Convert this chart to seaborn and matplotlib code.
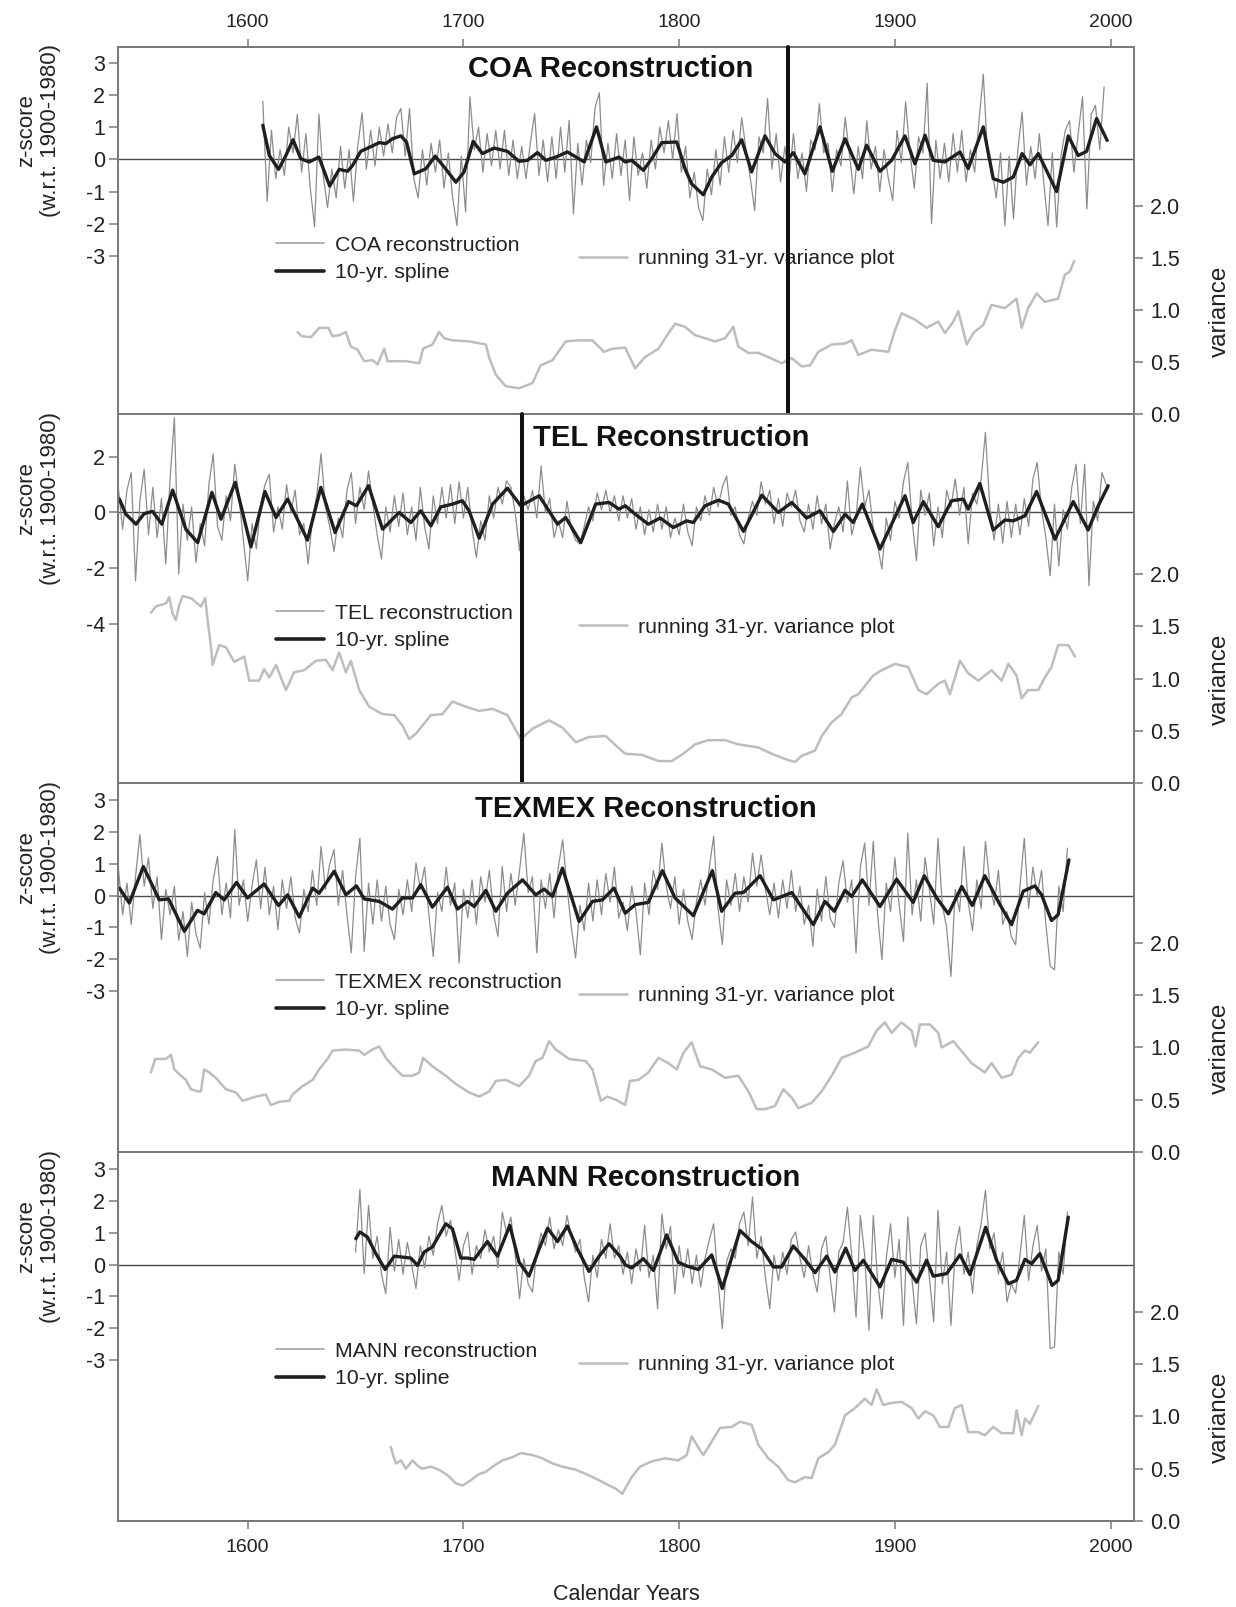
import numpy as np
import matplotlib
matplotlib.use("Agg")
import matplotlib.pyplot as plt
import seaborn as sns
from matplotlib.lines import Line2D

# ---------------- DATA ----------------
# raw reconstructions: values every 2 years starting at *_start
coa_start = 1607
coa_raw = [1.8, -1.3, 0.9, -0.6, 0.3, -0.5, 1.0, 0.2, 1.4, -0.4, 0.8, -0.9, -2.1, 1.4, -0.5, -1.5, -0.3, -1.2, 0.4, -0.9,
           0.3, -1.3, 0.4, 1.45, -0.3, 0.9, -0.2, 1.0, 0.1, 1.1, 0.2, 1.3, 1.58, 0.1, 1.58, -0.6, -1.2, 0.3, -0.8, 0.5,
           -0.4, 0.6, -0.9, 0.2, -1.2, -2.06, 0.1, -1.64, 1.94, 0.3, 1.0, -0.4, 0.8, -0.2, 0.9, -0.3, 0.9, -0.5, 0.6, -0.6,
           0.4, -0.6, 0.5, 1.42, -0.5, 0.6, -0.7, 0.7, -0.6, 1.0, -0.4, 1.21, -1.69, 0.5, -0.8, 0.6, -0.1, 1.6, 2.07, -0.81,
           0.5, -0.6, 0.8, -0.5, 0.6, -1.28, 0.7, -0.5, 0.2, -0.9, 0.6, -0.3, 1.0, 0.2, 1.2, 0.0, 1.42, -0.4, 0.4, -1.2,
           -0.4, -1.5, -1.9, -0.3, -1.1, 0.3, -0.8, 0.7, -0.4, 0.9, -0.1, 1.3, 0.3, -0.6, -1.59, 0.7, 0.2, 1.89, -0.3, 0.8,
           -0.7, 0.4, -0.6, 0.8, -0.6, 0.2, -1.0, 0.6, 0.3, 1.73, 0.2, 0.5, -1.0, 0.3, -0.2, 1.3, 0.1, -1.07, 0.4, -0.6,
           1.2, -0.3, 0.4, -1.0, 0.3, -0.6, -1.28, 0.9, -0.1, 1.79, 0.2, -0.9, 0.7, 0.2, 2.36, -2.0, 0.6, -0.6, 0.5, -0.7,
           0.8, -0.4, 0.9, -0.7, 0.3, -0.4, 1.2, 2.64, 0.1, -0.3, -1.2, 0.2, -2.06, 0.1, -1.85, 0.3, 1.47, -0.8, 0.4, -0.6,
           0.8, -0.7, -2.06, 0.2, -2.1, 0.1, 0.9, 1.2, -0.4, 0.8, 1.94, -1.54, 1.4, 1.68, 0.3, 2.25]
coa_spline = [(1607, 1.06), (1610, 0.12), (1614.3, -0.31), (1617.7, 0.12), (1621, 0.61), (1624.6, 0.02), (1628.5, -0.08),
              (1633, 0.07), (1638, -0.83), (1642.4, -0.31), (1646.3, -0.37), (1648.6, -0.19), (1652.4, 0.25),
              (1656.6, 0.38), (1661, 0.52), (1664, 0.49), (1667.1, 0.64), (1671, 0.73), (1673.6, 0.54), (1677.2, -0.45),
              (1682.6, -0.29), (1686.9, 0.10), (1691.1, -0.24), (1696.5, -0.71), (1700.3, -0.39), (1704.5, 0.56),
              (1708.8, 0.18), (1714.2, 0.35), (1720.4, 0.25), (1725.8, -0.06), (1729.7, -0.03), (1734.3, 0.21),
              (1738.2, -0.03), (1742.8, 0.07), (1748.2, 0.23), (1756, -0.08), (1761.7, 1.01), (1766, -0.08),
              (1772.1, 0.07), (1775, -0.08), (1778, -0.03), (1783.4, -0.34), (1787.3, 0.02), (1791.9, 0.52),
              (1798.9, 0.54), (1802.7, -0.29), (1805.8, -0.76), (1811.2, -1.10), (1815.1, -0.55), (1819.7, -0.10),
              (1824.4, 0.12), (1829, 0.61), (1833.6, -0.39), (1839.8, 0.73), (1844.4, 0.18), (1849.1, -0.08),
              (1852.9, 0.21), (1858.3, -0.45), (1865.3, 1.01), (1871, -0.37), (1876.9, 0.64), (1883.1, -0.31),
              (1886.9, 0.44), (1893.1, -0.37), (1898.5, -0.03), (1904.7, 0.73), (1909.3, -0.14), (1914, 0.75),
              (1917.8, -0.03), (1923.2, -0.08), (1930.2, 0.23), (1934, -0.29), (1941, 1.01), (1945.6, -0.60),
              (1950.3, -0.71), (1954.9, -0.55), (1959, 0.18), (1962.6, -0.17), (1966.5, 0.18), (1975, -1.00),
              (1980.4, 0.73), (1985, 0.12), (1988.9, 0.25), (1993.5, 1.27), (1998.4, 0.59)]
coa_var = [(1623.1, 0.79), (1625, 0.75), (1629.3, 0.74), (1633.1, 0.83), (1637.5, 0.83), (1639.3, 0.75), (1642.4, 0.76),
           (1645.5, 0.79), (1647.8, 0.65), (1650.9, 0.62), (1654, 0.51), (1657.8, 0.52), (1660.2, 0.48), (1663.3, 0.63),
           (1664.8, 0.51), (1668.7, 0.51), (1673.3, 0.51), (1679.5, 0.49), (1681.3, 0.63), (1685.6, 0.67),
           (1688.7, 0.79), (1691.1, 0.73), (1694.9, 0.71), (1702.6, 0.70), (1710.4, 0.67), (1712, 0.54), (1715, 0.38),
           (1719.6, 0.27), (1725.8, 0.25), (1732, 0.30), (1735.8, 0.47), (1741.3, 0.52), (1747.4, 0.70),
           (1753.6, 0.71), (1759.8, 0.71), (1765.2, 0.60), (1769.1, 0.63), (1775, 0.64), (1779.6, 0.44),
           (1784.2, 0.55), (1790.4, 0.63), (1793.5, 0.73), (1798.1, 0.87), (1802.7, 0.84), (1807.4, 0.76),
           (1812, 0.73), (1816.6, 0.70), (1821.3, 0.73), (1825.1, 0.84), (1827.4, 0.65), (1832.1, 0.59),
           (1836.7, 0.59), (1841.3, 0.55), (1847.5, 0.49), (1852.2, 0.54), (1856.8, 0.46), (1860.7, 0.47),
           (1864.5, 0.60), (1870.7, 0.67), (1876.9, 0.68), (1880, 0.71), (1883.1, 0.57), (1889.2, 0.62), (1897, 0.60),
           (1900.1, 0.81), (1903.1, 0.97), (1909.3, 0.91), (1914.7, 0.83), (1920.1, 0.89), (1923.2, 0.78),
           (1927.1, 0.89), (1929.4, 0.99), (1933.3, 0.67), (1936.4, 0.78), (1941, 0.86), (1944.8, 1.05), (1951, 1.02),
           (1956.4, 1.11), (1958.8, 0.83), (1961.8, 1.02), (1965.7, 1.16), (1969.5, 1.08), (1975.7, 1.11),
           (1978.8, 1.34), (1981.1, 1.37), (1983.1, 1.47)]

tel_start = 1540
tel_raw = [0.9, -0.6, 0.8, 1.43, -2.45, 0.4, 1.55, -0.8, 0.9, -0.9, 0.5, -1.85, 1.2, 3.4, -2.2, 0.3, -1.0, 0.2, -1.79, -0.4,
           -1.2, 1.0, 2.09, -0.5, -1.0, 0.6, -0.3, 1.73, 0.5, -1.0, -2.45, -0.4, -1.3, 0.3, 1.0, 1.37, -0.7, 0.2, -0.6, 1.0,
           0.0, 0.8, -0.8, -0.4, -1.85, -0.2, 0.6, 2.11, 0.2, -0.5, -1.4, -0.2, -0.9, 0.8, 1.43, -0.4, 0.9, 0.1, 1.49, 0.3,
           -0.8, -1.67, 0.2, -0.7, 0.6, -0.5, 0.7, -0.8, 0.2, -1.0, 0.9, -0.5, -1.31, 0.6, -0.4, 0.9, -0.2, 1.0, -0.4, 1.1,
           -0.2, 0.9, -0.6, -1.61, -0.3, -1.0, 0.6, -0.2, 0.9, 0.3, 1.13, 0.9, 0.0, -1.37, 0.6, 0.1, 0.8, -0.2, 1.67, 0.0,
           0.5, -0.9, -0.3, -0.9, 0.4, -0.6, -1.0, -1.13, -0.5, 0.2, -0.3, 0.7, 0.1, 0.8, 0.0, 0.6, -0.3, 0.6, -0.2, 0.5,
           -0.6, 0.2, -0.8, 0.1, -0.7, 0.3, -0.6, 0.2, -0.9, -0.2, -0.8, 0.3, -0.7, -1.19, 0.2, -0.3, 0.6, -0.1, 0.9, 0.2,
           0.9, 1.31, -0.1, 0.2, -0.8, -1.13, -0.2, 0.4, -0.1, 1.1, 0.3, 0.8, -0.4, 0.5, -0.5, 0.7, 0.2, 0.8, -0.3, -0.7,
           0.3, -0.6, 0.6, -0.4, 0.3, -1.31, -0.4, 0.2, -0.7, 1.13, -0.8, -0.2, 1.61, 0.2, 0.8, -0.6, -1.2, -2.03, -0.2, -1.0,
           0.4, -0.2, 1.1, 1.79, -0.3, -1.73, 0.8, -0.1, 0.7, -1.2, 0.2, -0.9, 0.8, 0.2, 1.2, -0.1, 0.9, -1.13, 0.7, 0.3,
           1.2, 2.87, 0.2, -1.0, 0.3, -1.1, 0.4, -0.9, 0.3, -0.8, 0.5, -0.5, 1.2, 1.79, 0.1, -0.9, -2.27, 0.3, -1.91, 0.1,
           -0.6, 0.9, 1.73, -0.4, 1.73, -2.63, 0.4, -0.3, 1.43, 1.0]
tel_spline = [(1540.5, 0.48), (1543.5, -0.06), (1548.2, -0.42), (1552, -0.04), (1555.9, 0.04), (1560.2, -0.42),
              (1565.2, 0.80), (1571.3, -0.60), (1576.8, -1.08), (1583.4, 0.72), (1587.6, -0.24), (1594.2, 1.08),
              (1601.5, -1.23), (1608, 0.75), (1613.1, -0.18), (1618.5, 0.48), (1627.7, -0.99), (1633.9, 0.90),
              (1640.5, -0.72), (1646.7, 0.39), (1650.4, 0.24), (1656, 0.96), (1662.5, -0.60), (1670.2, 0.00),
              (1675.6, -0.36), (1680.2, 0.06), (1684.9, -0.48), (1689.5, 0.20), (1694.9, 0.30), (1699.5, 0.42),
              (1702.6, 0.06), (1707.3, -0.92), (1713.5, 0.30), (1720.4, 0.87), (1726.6, 0.24), (1735.1, 0.60),
              (1743.6, -0.42), (1747.4, -0.18), (1754.4, -1.08), (1761.3, 0.30), (1767.5, 0.36), (1772.1, 0.12),
              (1775, 0.24), (1779.6, -0.06), (1785.7, -0.42), (1791.2, -0.20), (1797.3, -0.54), (1803.5, -0.30),
              (1806.6, -0.36), (1812, 0.24), (1818.2, 0.44), (1822.8, 0.30), (1829.8, -0.68), (1838.3, 0.62),
              (1846, 0.00), (1852.2, 0.36), (1859.1, -0.20), (1865.3, 0.06), (1871.5, -0.68), (1876.9, -0.06),
              (1880.7, -0.36), (1884.9, 0.30), (1893.1, -1.31), (1898.5, -0.42), (1904.7, 0.60), (1908.5, -0.36),
              (1913.2, 0.39), (1920.1, -0.51), (1926.3, 0.42), (1931.7, 0.48), (1934, 0.12), (1939.4, 1.04),
              (1945.6, -0.63), (1951, -0.27), (1954.9, -0.30), (1960.3, -0.12), (1965.7, 0.75), (1974.2, -0.96),
              (1982.7, 0.39), (1989.6, -0.63), (1994.3, 0.24), (1998.9, 0.96)]
tel_var = [(1555.1, 1.63), (1557.4, 1.69), (1562.1, 1.72), (1563.6, 1.78), (1565.2, 1.62), (1566.7, 1.56), (1568.2, 1.70),
           (1569.8, 1.79), (1573.7, 1.77), (1578.3, 1.69), (1580.3, 1.77), (1581.4, 1.56), (1583, 1.30), (1583.7, 1.13),
           (1586.8, 1.32), (1589.9, 1.30), (1593.7, 1.16), (1598.4, 1.21), (1600.7, 0.98), (1605.3, 0.98),
           (1607.6, 1.09), (1610, 1.01), (1613.1, 1.13), (1617.7, 0.89), (1621.5, 1.06), (1626.2, 1.08),
           (1631.6, 1.17), (1636.2, 1.18), (1639.3, 1.08), (1642.4, 1.25), (1645.5, 1.06), (1647.8, 1.17),
           (1651.7, 0.89), (1656.3, 0.73), (1662.5, 0.66), (1667.9, 0.65), (1671.7, 0.55), (1674.8, 0.42),
           (1677.9, 0.47), (1684.9, 0.65), (1690.3, 0.66), (1694.9, 0.78), (1701.1, 0.73), (1707.3, 0.69),
           (1713.5, 0.71), (1720.4, 0.65), (1726.6, 0.42), (1732, 0.52), (1739.7, 0.60), (1745.9, 0.53),
           (1752.1, 0.39), (1758.2, 0.44), (1765.9, 0.45), (1770.6, 0.36), (1775, 0.28), (1782.7, 0.27),
           (1790.4, 0.21), (1796.6, 0.21), (1801.9, 0.28), (1807.4, 0.37), (1813.5, 0.41), (1821.3, 0.41),
           (1827.4, 0.37), (1836.7, 0.34), (1842.9, 0.28), (1849.1, 0.23), (1853.7, 0.20), (1856.8, 0.26),
           (1863, 0.31), (1866.1, 0.45), (1870.7, 0.58), (1875.3, 0.66), (1880, 0.82), (1883.1, 0.85), (1890, 1.03),
           (1893.9, 1.08), (1900, 1.14), (1906.2, 1.11), (1910.9, 0.89), (1914.7, 0.85), (1920.1, 0.95),
           (1923.2, 0.98), (1925.5, 0.85), (1930.2, 1.17), (1934, 1.05), (1938.7, 0.98), (1944.8, 1.08),
           (1949.5, 0.98), (1952.6, 1.14), (1956.4, 1.03), (1958.8, 0.81), (1961.8, 0.89), (1966.5, 0.89),
           (1969.5, 1.01), (1972.6, 1.11), (1975.7, 1.32), (1980.4, 1.32), (1983.5, 1.21)]

tex_start = 1540
tex_raw = [0.9, -0.6, 0.4, -0.9, 0.6, 1.92, 0.3, 1.2, -0.4, 0.6, -1.38, 0.2, -0.6, 0.3, -1.4, -0.5, -1.91, -0.2, -1.2, -1.65,
           0.1, -0.9, 0.5, 1.24, -0.6, 0.4, -0.7, 2.08, -0.3, 0.5, -0.8, 0.3, 1.13, -0.4, 0.9, -0.6, 0.3, -1.07, 0.5, -0.4,
           0.6, -0.7, -1.17, 0.2, -0.5, 0.8, -0.3, 1.55, 0.2, 1.0, 1.45, -0.3, 0.8, -0.6, -1.8, 0.6, 1.81, -1.75, 0.4, -0.9,
           0.5, -0.8, 0.3, -0.9, -1.38, 0.2, -0.6, 0.5, -0.5, 1.03, 0.2, 0.9, -0.6, -1.91, 0.1, -0.5, 0.9, -0.3, 0.4, -2.12,
           0.2, -0.7, 0.5, -0.9, 0.6, -0.2, 0.8, -0.6, -1.28, 0.92, -0.5, 0.7, -0.3, 0.8, 1.97, 0.1, 0.6, -1.8, 0.5, -0.4,
           0.7, -0.7, 0.9, 1.76, 0.3, -1.0, -1.96, -0.3, -1.1, 0.4, -0.8, 0.5, -0.6, 0.7, -0.2, 0.9, -0.7, -0.2, -1.1, 0.3,
           -0.5, -1.86, 0.4, -0.6, 0.8, 0.2, 1.66, 0.3, -0.4, 0.6, -0.9, 0.2, -0.8, -1.38, -0.2, 0.5, -0.3, 0.9, 1.87, -0.4,
           -1.54, 0.5, -0.3, 0.7, -0.5, 0.6, -0.2, 1.34, 0.3, 1.29, 0.2, -0.6, 0.4, -0.7, 0.5, -0.4, 0.8, -0.5, 0.3, -0.9,
           -0.3, -1.59, 0.2, -0.8, 0.6, -0.7, -1.0, 0.4, 1.1, -0.2, 0.5, -1.8, 0.9, 1.66, -0.3, 1.71, -0.6, -2.01, 0.4, -0.5,
           1.2, -0.3, -1.44, 1.97, -0.6, 0.5, -0.8, 1.2, 0.2, -0.9, 1.81, -0.3, -1.0, -2.54, 0.2, -0.5, 1.55, -0.2, -1.1, 0.5,
           -0.4, 1.71, 0.4, -0.3, 0.8, -0.9, -0.5, -1.3, -1.54, 0.3, 1.81, -0.4, 0.9, 0.0, 0.8, -0.9, -2.22, -2.33, 0.3, -0.5,
           1.5]
tex_spline = [(1540.5, 0.24), (1545.1, -0.23), (1551.6, 0.92), (1559, -0.13), (1563.3, -0.10), (1570.6, -1.12),
              (1576.7, -0.46), (1579.8, -0.57), (1585.2, 0.10), (1589.1, -0.13), (1594.8, 0.42), (1599.9, -0.07),
              (1607.6, 0.37), (1614.3, -0.31), (1618.5, 0.03), (1623.9, -0.67), (1630.1, 0.24), (1633.1, 0.08),
              (1640.1, 0.77), (1645.5, 0.03), (1650.4, 0.31), (1654, -0.10), (1661, -0.18), (1667.1, -0.42),
              (1671.7, -0.07), (1676.4, -0.07), (1680.2, 0.35), (1685.6, -0.36), (1692.6, 0.27), (1697.2, -0.42),
              (1701.9, -0.18), (1705, -0.34), (1710.4, 0.17), (1715, -0.49), (1720.4, 0.08), (1727.4, 0.50),
              (1733.5, 0.03), (1737.4, 0.21), (1741.3, -0.02), (1745.9, 0.87), (1753.6, -0.81), (1759.8, -0.18),
              (1764.4, -0.13), (1769.8, 0.24), (1775, -0.55), (1779.6, -0.28), (1785.7, -0.21), (1792.2, 0.79),
              (1798.1, -0.07), (1806.6, -0.63), (1815.4, 0.79), (1819.7, -0.49), (1825.9, 0.08), (1829.8, 0.10),
              (1837.5, 0.63), (1843.7, -0.13), (1852.2, 0.10), (1862.2, -0.91), (1867.6, -0.18), (1871.9, -0.49),
              (1876.9, 0.17), (1880, -0.02), (1884.9, 0.50), (1893.1, -0.34), (1900.8, 0.52), (1908.5, -0.21),
              (1913.6, 0.63), (1919.4, -0.07), (1924.8, -0.57), (1931, 0.29), (1935.9, -0.31), (1941.7, 0.63),
              (1948.7, -0.28), (1954.1, -0.91), (1959.5, 0.14), (1964.9, 0.31), (1968, 0.03), (1972.6, -0.78),
              (1975.7, -0.60), (1980.7, 1.13)]
tex_var = [(1555.1, 0.76), (1557.1, 0.89), (1562.1, 0.89), (1564.4, 0.93), (1566, 0.79), (1569, 0.73), (1571.3, 0.69),
           (1573.7, 0.60), (1576.7, 0.58), (1578.3, 0.58), (1579.8, 0.79), (1582.2, 0.76), (1585.2, 0.71),
           (1589.9, 0.60), (1594.5, 0.57), (1597.6, 0.49), (1603.8, 0.53), (1608.4, 0.55), (1610.7, 0.45),
           (1614.6, 0.48), (1619.2, 0.49), (1620.8, 0.55), (1625.4, 0.63), (1630.1, 0.69), (1633.1, 0.79),
           (1637, 0.89), (1639.3, 0.97), (1645.5, 0.98), (1651.7, 0.97), (1654, 0.93), (1657.8, 0.98), (1661, 1.01),
           (1664, 0.90), (1668.7, 0.79), (1671.7, 0.73), (1676.4, 0.73), (1679.5, 0.76), (1681.3, 0.90),
           (1685.6, 0.82), (1691.8, 0.73), (1696.5, 0.65), (1702.6, 0.57), (1707.3, 0.53), (1712, 0.58), (1715, 0.68),
           (1719.6, 0.69), (1725.8, 0.63), (1730.4, 0.73), (1733.5, 0.87), (1736.6, 0.90), (1739.7, 1.06),
           (1742.8, 0.98), (1749, 0.89), (1756.7, 0.87), (1759.8, 0.79), (1763.7, 0.49), (1766.7, 0.53),
           (1770.6, 0.50), (1775, 0.45), (1777.2, 0.68), (1781.1, 0.69), (1785.7, 0.76), (1790.4, 0.90), (1795, 0.85),
           (1798.9, 0.79), (1802, 0.95), (1805.8, 1.05), (1809.7, 0.82), (1815.1, 0.79), (1821.3, 0.71),
           (1827.4, 0.73), (1832.1, 0.58), (1836, 0.41), (1839.8, 0.41), (1844.4, 0.44), (1848.3, 0.60),
           (1852.2, 0.52), (1855.3, 0.42), (1861.4, 0.47), (1866.1, 0.58), (1870.7, 0.73), (1875.3, 0.90),
           (1881.5, 0.95), (1887.7, 1.01), (1891.5, 1.16), (1895.4, 1.24), (1898.5, 1.14), (1903.1, 1.24),
           (1907.8, 1.16), (1909.6, 1.01), (1911.6, 1.22), (1916.3, 1.22), (1920.1, 1.14), (1921.7, 1.00),
           (1927.1, 1.06), (1935.6, 0.85), (1941.7, 0.76), (1944.8, 0.85), (1949.5, 0.71), (1954.1, 0.74),
           (1957.2, 0.90), (1960.3, 0.97), (1962.6, 0.95), (1966.5, 1.05)]

mann_start = 1650
mann_raw = [0.4, 2.37, -0.28, 1.87, 0.2, 0.9, -0.3, -0.91, 1.18, -0.2, 0.8, -0.3, 0.7, 0.0, -0.75, 0.6, -0.1, 0.9, 0.3, 1.3,
            1.87, 0.9, 1.4, 0.5, -0.49, 0.6, 1.03, -0.3, 0.6, 0.2, 1.1, 0.4, 0.9, -0.1, 1.66, 1.0, 1.5, 0.3, -1.07, 0.2,
            -0.6, -0.86, 0.4, 1.0, 0.6, 1.5, 0.5, 1.1, 0.6, 1.55, 0.9, 0.4, 0.8, -0.4, -1.17, 0.3, -0.4, 0.8, 0.2, 1.29,
            0.2, 0.6, -0.3, 0.4, -0.6, 0.5, -0.2, 1.24, -0.4, 0.3, -1.38, 1.6, 0.5, 1.2, -0.91, 0.6, -0.4, 0.5, -0.6, 0.3,
            -0.7, 0.2, 0.8, 1.29, -0.5, -2.01, 0.1, 0.5, 0.2, 1.3, 1.66, 0.6, 2.13, 0.2, 0.9, -0.4, -1.38, 0.3, -0.5, 0.4,
            -0.3, 0.8, 1.03, 0.2, -0.4, 0.6, -0.3, -0.86, 0.5, 0.9, -0.4, -1.49, 0.4, 0.7, 1.81, 0.3, -1.65, 1.55, 0.3,
            -2.07, 1.55, -0.5, -1.7, 0.2, 1.29, -0.4, 0.8, -1.91, 1.5, -0.5, -1.86, 0.6, 1.0, -0.4, -1.8, 1.71, -0.6, 0.4,
            -1.91, 0.5, 1.2, -0.3, 0.4, -0.9, 0.6, 1.3, 2.34, 0.5, 1.0, -0.3, 0.4, -1.17, -0.6, -0.9, 0.3, 1.55, -0.5, 0.6,
            1.24, -0.2, 0.5, -2.64, -2.59, 0.4, -0.3, 1.66]
mann_spline = [(1650.1, 0.82), (1652, 1.03), (1655.5, 0.87), (1659.4, 0.35), (1663.7, -0.15), (1667.9, 0.27),
               (1671.7, 0.24), (1675.6, 0.21), (1678.7, -0.02), (1681.8, 0.40), (1685.6, 0.56), (1691.8, 1.29),
               (1694.9, 1.13), (1698.8, 0.21), (1701.9, 0.21), (1705, 0.17), (1711.1, 0.73), (1715.8, 0.27),
               (1721.5, 1.24), (1725.8, 0.08), (1730.4, -0.36), (1735.1, 0.50), (1739, 1.15), (1743.6, 0.73),
               (1748.2, 1.22), (1752.8, 0.50), (1758.2, -0.21), (1762.9, 0.27), (1767.5, 0.66), (1772.9, 0.24),
               (1775, 0.0), (1778, -0.10), (1783.4, 0.19), (1788.1, -0.18), (1794.2, 0.94), (1799.6, 0.08),
               (1803.5, -0.04), (1808.9, -0.15), (1815.1, 0.31), (1820, -0.75), (1828.2, 1.08), (1833.6, 0.73),
               (1838.3, 0.50), (1843.7, -0.07), (1847.5, -0.07), (1852.9, 0.59), (1858.3, 0.17), (1863, -0.25),
               (1868.4, 0.27), (1872.2, -0.23), (1877.2, 0.52), (1881.5, -0.18), (1885.4, 0.14), (1893.1, -0.70),
               (1898.5, 0.17), (1903.9, 0.08), (1910.1, -0.55), (1914.7, 0.14), (1917.8, -0.36), (1924, -0.28),
               (1930.2, 0.31), (1934.8, -0.31), (1942.1, 1.18), (1947.2, 0.14), (1952.6, -0.60), (1956.4, -0.49),
               (1960.3, 0.17), (1963.4, 0.03), (1967.2, 0.35), (1972.9, -0.65), (1975.7, -0.49), (1980.4, 1.50)]
mann_var = [(1666.3, 0.71), (1667.4, 0.63), (1668.7, 0.55), (1671, 0.58), (1673.3, 0.50), (1676.4, 0.58), (1678.7, 0.53),
            (1681, 0.50), (1684.9, 0.52), (1688.7, 0.49), (1692.6, 0.44), (1696.5, 0.36), (1699.6, 0.34),
            (1703.4, 0.39), (1707.3, 0.45), (1710.4, 0.47), (1714.2, 0.53), (1718.1, 0.58), (1722.7, 0.61),
            (1726.6, 0.65), (1732, 0.63), (1736.6, 0.60), (1741.3, 0.55), (1745.9, 0.52), (1752.1, 0.49),
            (1756.7, 0.45), (1762.9, 0.39), (1767.5, 0.34), (1770.6, 0.31), (1773.7, 0.26), (1775, 0.31),
            (1778, 0.42), (1781.9, 0.52), (1787.3, 0.57), (1793.5, 0.60), (1799.6, 0.58), (1803.5, 0.63),
            (1805.8, 0.81), (1808.1, 0.73), (1811.2, 0.63), (1815.1, 0.76), (1818.9, 0.89), (1824.4, 0.90),
            (1828.2, 0.95), (1833.6, 0.92), (1836.7, 0.73), (1841.3, 0.60), (1845.9, 0.52), (1850.6, 0.39),
            (1853.7, 0.37), (1858.3, 0.42), (1861.4, 0.41), (1864.5, 0.60), (1869.2, 0.66), (1872.2, 0.73),
            (1876.9, 1.01), (1881.5, 1.08), (1886.1, 1.17), (1889.2, 1.11), (1891.5, 1.26), (1894.6, 1.11),
            (1898.5, 1.13), (1903.1, 1.14), (1907.8, 1.08), (1910.9, 0.98), (1914, 1.05), (1917.8, 1.01),
            (1920.9, 0.90), (1924.8, 0.90), (1927.8, 1.08), (1931, 1.11), (1934, 0.85), (1938.7, 0.85),
            (1941.7, 0.82), (1945.6, 0.90), (1949.5, 0.84), (1954.9, 0.84), (1956.4, 1.06), (1958.8, 0.82),
            (1960.3, 0.98), (1962.6, 0.93), (1966.5, 1.10)]

panel_names = ["COA", "TEL", "TEXMEX", "MANN"]
marker_years = {"COA": 1850.6, "TEL": 1727.0}
x_ticks = [1600, 1700, 1800, 1900, 2000]
var_ticks = [0.0, 0.5, 1.0, 1.5, 2.0]

# ---------------- STYLE ----------------
sns.set_theme(style="white")
plt.rcParams["font.family"] = ["Liberation Sans", "DejaVu Sans"]
plt.rcParams["axes.unicode_minus"] = False

RAW_C = "#8c8c8c"
SPL_C = "#1f1f1f"
VAR_C = "#bdbdbd"
SPINE_C = "#7a7a7a"
TXT_C = "#222222"

W, H = 1236, 1607
fig = plt.figure(figsize=(W / 100, H / 100), dpi=100)

ax_left, ax_right = 118.3, 1134.3
panel_px = [(46.7, 414.3), (414.3, 783.0), (783.0, 1152.0), (1152.0, 1521.0)]
zlims = [(-7.92, 3.50), (-9.70, 3.52), (-8.07, 3.55), (-8.07, 3.55)]
zticks = [[-3, -2, -1, 0, 1, 2, 3], [-4, -2, 0, 2], [-3, -2, -1, 0, 1, 2, 3], [-3, -2, -1, 0, 1, 2, 3]]
title_x = [0.485, 0.544, 0.519, 0.5187]
title_y = [0.918, 0.913, 0.908, 0.908]

datasets = {
    "COA": (coa_start, coa_raw, coa_spline, coa_var),
    "TEL": (tel_start, tel_raw, tel_spline, tel_var),
    "TEXMEX": (tex_start, tex_raw, tex_spline, tex_var),
    "MANN": (mann_start, mann_raw, mann_spline, mann_var),
}

for i, name in enumerate(panel_names):
    top, bot = panel_px[i]
    rect = [ax_left / W, 1 - bot / H, (ax_right - ax_left) / W, (bot - top) / H]
    ax = fig.add_axes(rect)
    ax2 = ax.twinx()
    start, raw, spline, var = datasets[name]
    raw_years = np.arange(start, start + 2 * len(raw), 2)
    sy, sv = zip(*spline)
    vy, vv = zip(*var)

    ax.axhline(0, color="#4a4a4a", lw=1.0, zorder=1)
    sns.lineplot(x=raw_years, y=raw, ax=ax, color=RAW_C, linewidth=0.9, sort=False,
                 estimator=None, errorbar=None, zorder=2)
    sns.lineplot(x=list(sy), y=list(sv), ax=ax, color=SPL_C, linewidth=2.4, sort=False,
                 estimator=None, errorbar=None, zorder=3, solid_joinstyle="round",
                 solid_capstyle="round")
    sns.lineplot(x=list(vy), y=list(vv), ax=ax2, color=VAR_C, linewidth=1.8, sort=False,
                 estimator=None, errorbar=None, zorder=2)

    ax.set_xlim(1540, 2011)
    ax.set_ylim(*zlims[i])
    ax2.set_ylim(0, 3.53)
    ax.set_yticks(zticks[i])
    ax.set_yticklabels([str(t) for t in zticks[i]])
    ax2.set_yticks(var_ticks)
    ax2.set_yticklabels([f"{t:.1f}" for t in var_ticks])
    ax.set_xticks(x_ticks)

    for a in (ax, ax2):
        for s in a.spines.values():
            s.set_color(SPINE_C)
            s.set_linewidth(1.4)
    ax.tick_params(axis="y", which="both", left=True, direction="out", length=6.5, width=1.1,
                   color=SPINE_C, labelsize=15.5, pad=3, labelcolor=TXT_C)
    ax2.tick_params(axis="y", which="both", right=True, direction="out", length=6.5, width=1.1,
                    color=SPINE_C, labelsize=15.5, pad=5, labelcolor=TXT_C)
    if i == 0:
        ax.tick_params(axis="x", bottom=False, top=True, labelbottom=False, labeltop=True,
                       direction="out", length=6, width=1.1, color=SPINE_C, labelsize=14,
                       pad=5, labelcolor=TXT_C)
    elif i == 3:
        ax.tick_params(axis="x", bottom=True, top=False, labelbottom=True, labeltop=False,
                       direction="out", length=6, width=1.1, color=SPINE_C, labelsize=14,
                       pad=7, labelcolor=TXT_C)
    else:
        ax.tick_params(axis="x", bottom=False, top=False, labelbottom=False, labeltop=False)

    ax.set_xlabel("")
    ax.set_ylabel("z-score\n(w.r.t. 1900-1980)", fontsize=16, color=TXT_C, linespacing=1.2)
    ax.yaxis.set_label_coords(-0.056, 0.772)
    ax2.set_ylabel("variance", fontsize=17.5, color=TXT_C)
    ax2.yaxis.set_label_coords(1.073, 0.28)

    ax.text(title_x[i], title_y[i], f"{name} Reconstruction", transform=ax.transAxes,
            ha="center", va="baseline", fontsize=21, fontweight="bold", color="#111111", zorder=5)

    if name in marker_years:
        ax2.axvline(marker_years[name], ymin=-0.008, ymax=1.0, color="#111111", lw=2.9,
                    clip_on=False, zorder=6)

    h_raw = Line2D([], [], color="#a8a8a8", lw=1.3)
    h_spl = Line2D([], [], color=SPL_C, lw=2.6)
    h_var = Line2D([], [], color=VAR_C, lw=1.8)
    leg1 = ax2.legend([h_raw, h_spl], [f"{name} reconstruction", "10-yr. spline"],
                      loc="center left", bbox_to_anchor=(0.155, 0.423), frameon=False,
                      fontsize=15.3, handlelength=2.26, handletextpad=0.55, labelspacing=0.4,
                      borderpad=0, borderaxespad=0)
    for t in leg1.get_texts():
        t.set_color(TXT_C)
    ax2.add_artist(leg1)
    leg2 = ax2.legend([h_var], ["running 31-yr. variance plot"],
                      loc="center left", bbox_to_anchor=(0.453, 0.423), frameon=False,
                      fontsize=15.3, handlelength=2.3, handletextpad=0.5,
                      borderpad=0, borderaxespad=0)
    for t in leg2.get_texts():
        t.set_color(TXT_C)

    if i == 3:
        ax.set_xlabel("Calendar Years", fontsize=15.5, color=TXT_C)
        ax.xaxis.set_label_coords(0.5, -0.17)

fig.savefig("out.png", dpi=100)
